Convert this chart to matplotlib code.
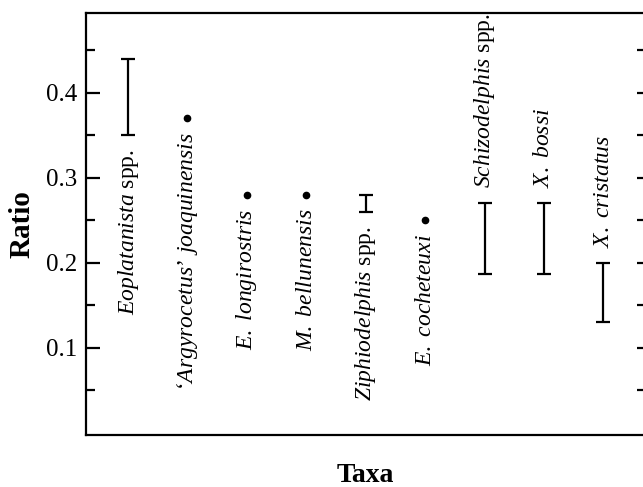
import matplotlib
matplotlib.use("Agg")
import matplotlib.pyplot as plt
import numpy as np

# ---- data ----
taxa = [
    r"$\mathit{Eoplatanista}$ spp.",
    "\u2018$\\mathit{Argyrocetus}$\u2019 $\\mathit{joaquinensis}$",
    r"$\mathit{E.\ longirostris}$",
    r"$\mathit{M.\ bellunensis}$",
    r"$\mathit{Ziphiodelphis}$ spp.",
    r"$\mathit{E.\ cocheteuxi}$",
    r"$\mathit{Schizodelphis}$ spp.",
    r"$\mathit{X.\ bossi}$",
    r"$\mathit{X.\ cristatus}$",
]
ratio_low = [0.35, 0.37, 0.28, 0.28, 0.26, 0.25, 0.187, 0.187, 0.13]
ratio_high = [0.44, 0.37, 0.28, 0.28, 0.28, 0.25, 0.27, 0.27, 0.20]
label_side = ["below", "below", "below", "below", "below", "below",
              "above", "above", "above"]
major_ticks = [0.1, 0.2, 0.3, 0.4]
minor_ticks = [0.05, 0.15, 0.25, 0.35, 0.45]

plt.rcParams["font.family"] = ["Liberation Serif", "DejaVu Serif"]
plt.rcParams["mathtext.fontset"] = "custom"
plt.rcParams["mathtext.it"] = "Liberation Serif:italic"
plt.rcParams["mathtext.rm"] = "Liberation Serif"

fig = plt.figure(figsize=(6.43, 4.87), dpi=100)
W, H = 643, 487
left_px, right_px, top_px, bot_px = 86, 645, 12.5, 435
ax = fig.add_axes([left_px / W, (H - bot_px) / H,
                   (right_px - left_px) / W, (bot_px - top_px) / H])

x = np.arange(len(taxa))
low = np.array(ratio_low)
high = np.array(ratio_high)
rng = high > low

ax.errorbar(x[rng], (low[rng] + high[rng]) / 2, yerr=(high[rng] - low[rng]) / 2,
            fmt="none", ecolor="black", elinewidth=1.6, capsize=5, capthick=1.6)
ax.plot(x[~rng], low[~rng], "o", color="black", ms=4.5)

for xi, lab, lo, hi, side in zip(x, taxa, low, high, label_side):
    if side == "below":
        ax.annotate(lab, (xi, lo), xytext=(0, -10), textcoords="offset points",
                    rotation=90, ha="center", va="top", fontsize=17)
    else:
        ax.annotate(lab, (xi, hi), xytext=(0, 11), textcoords="offset points",
                    rotation=90, ha="center", va="bottom", fontsize=17)

ax.set_xlim(-0.707, 8.70)
ax.set_ylim(-0.0024, 0.4947)
ax.set_xticks([])
ax.set_yticks(major_ticks)
ax.set_yticklabels([f"{v:.1f}" for v in major_ticks])
ax.set_yticks(minor_ticks, minor=True)
ax.tick_params(axis="y", which="major", direction="in", length=10, width=1.6,
               labelsize=18, pad=6, right=False)
ax.tick_params(axis="y", which="minor", direction="in", length=6.5, width=1.6,
               right=False)
for s in ax.spines.values():
    s.set_linewidth(1.6)

ax2 = ax.twinx()
ax2.set_ylim(ax.get_ylim())
ax2.set_yticks(major_ticks)
ax2.set_yticks(minor_ticks, minor=True)
ax2.tick_params(axis="y", which="both", direction="in", length=6, width=1.6,
                labelright=False)
for s in ax2.spines.values():
    s.set_visible(False)

ax.set_ylabel("Ratio", fontsize=21, fontweight="bold", labelpad=8)
ax.set_xlabel("Taxa", fontsize=20, fontweight="bold", labelpad=20)

fig.savefig("out.png", dpi=100)
